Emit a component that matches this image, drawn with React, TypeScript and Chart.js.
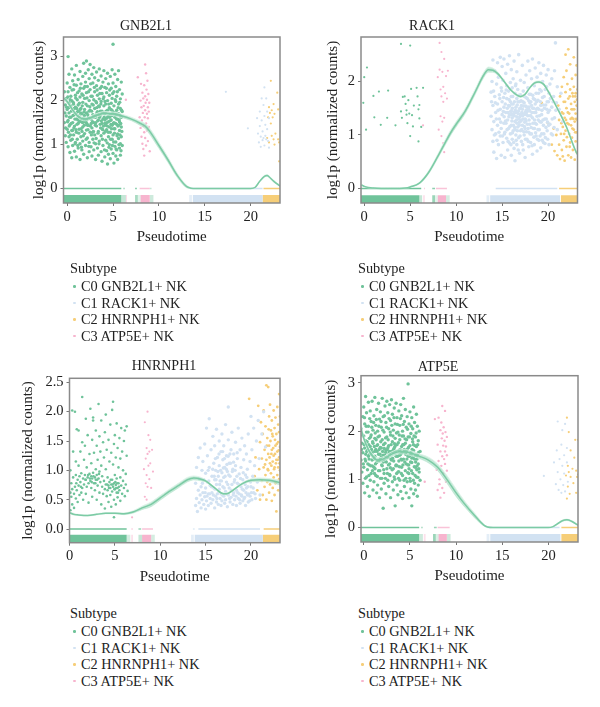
import { useEffect, useRef } from "react"
import { Chart, registerables } from "chart.js"

Chart.register(...registerables)

type Pt = [number, number]
// start, end, cluster, opacity
type Seg = [number, number, number, number]
// x, fitted y, half width of the ribbon
type Knot = [number, number, number]

const subtypeLabels = ["C0 GNB2L1+ NK", "C1 RACK1+ NK", "C2 HNRNPH1+ NK", "C3 ATP5E+ NK"]
const clusterColors = ["#6fc39a", "#d2e2f2", "#f6ce78", "#f7b4ce"]

const gnbC0: Pt[] = [
  [-0.3,2.2],[-0.3,1.5],[-0.2,1.9],[-0.2,1.2],[-0.1,2.05],[-0.1,1.65],[-0.1,1.05],[0,2.4],[0,1.8],[0,1.35],[0.1,3.0],[0.1,2.2],[0.1,1.55],[0.1,0.95],
  [0.2,2.6],[0.2,1.95],[0.2,1.72],[0.2,1.18],[0.3,2.3],[0.3,1.45],[0.3,0.82],[0.4,2.1],[0.4,1.88],[0.4,1.62],[0.4,1.1],[0.5,2.72],[0.5,2.0],[0.5,1.32],[0.5,0.7],
  [0.6,2.45],[0.6,1.78],[0.6,1.5],[0.6,0.98],[0.7,2.25],[0.7,1.92],[0.7,1.22],[0.8,2.58],[0.8,1.68],[0.8,1.42],[0.8,0.85],[0.9,2.12],[0.9,1.85],[0.9,1.05],
  [1,2.8],[1,2.35],[1,1.58],[1,1.28],[1,0.72],[1.1,2.02],[1.1,1.74],[1.1,1.12],[1.2,2.48],[1.2,1.9],[1.2,1.48],[1.2,0.92],[1.3,2.22],[1.3,1.65],[1.3,1.35],
  [1.4,2.66],[1.4,2.08],[1.4,1.02],[1.4,0.66],[1.5,2.38],[1.5,1.82],[1.5,1.55],[1.5,1.18],[1.6,2.15],[1.6,1.7],[1.6,0.88],[1.7,2.55],[1.7,1.96],[1.7,1.4],[1.7,1.08],
  [1.8,2.85],[1.8,2.28],[1.8,1.6],[1.8,0.78],[1.9,2.05],[1.9,1.8],[1.9,1.25],[2,2.62],[2,2.42],[2,1.52],[2,0.98],[2.1,2.9],[2.1,2.18],[2.1,1.72],[2.1,1.33],
  [2.2,2.32],[2.2,1.88],[2.2,1.15],[2.2,0.7],[2.3,2.7],[2.3,1.62],[2.3,1.44],[2.4,2.5],[2.4,2.0],[2.4,1.05],[2.4,0.84],[2.5,2.82],[2.5,2.25],[2.5,1.78],[2.5,1.28],
  [2.6,2.1],[2.6,1.58],[2.6,0.95],[2.7,2.6],[2.7,1.92],[2.7,1.38],[2.7,0.74],[2.8,2.4],[2.8,1.68],[2.8,1.12],[2.9,2.75],[2.9,2.02],[2.9,1.5],[2.9,0.88],
  [3,2.52],[3,2.2],[3,1.82],[3,1.22],[3.1,1.62],[3.1,1.02],[3.1,0.66],[3.2,2.65],[3.2,2.34],[3.2,1.95],[3.2,1.42],[3.3,2.12],[3.3,1.75],[3.3,0.92],
  [3.4,2.46],[3.4,1.56],[3.4,1.3],[3.4,0.76],[3.5,2.72],[3.5,2.04],[3.5,1.86],[3.5,1.08],[3.6,2.28],[3.6,1.66],[3.6,1.46],[3.7,2.56],[3.7,1.98],[3.7,1.2],[3.7,0.84],
  [3.8,2.16],[3.8,1.76],[3.8,1.36],[3.8,0.62],[3.9,2.42],[3.9,1.58],[3.9,0.98],[4,2.68],[4,2.08],[4,1.88],[4,1.26],[4.1,2.3],[4.1,1.7],[4.1,1.48],[4.1,0.72],
  [4.2,2.5],[4.2,1.92],[4.2,1.1],[4.3,2.18],[4.3,1.6],[4.3,1.34],[4.3,0.86],[4.4,2.62],[4.4,2.0],[4.4,1.78],[4.4,0.56],[4.5,2.38],[4.5,1.52],[4.5,1.18],[4.5,0.78],
  [4.6,2.12],[4.6,1.84],[4.6,1.4],[4.6,1.0],[4.7,2.55],[4.7,1.68],[4.7,1.28],[4.7,0.68],[4.8,2.28],[4.8,1.94],[4.8,1.56],[4.8,0.9],[4.9,2.7],[4.9,2.05],[4.9,1.44],[4.9,1.12],
  [5,3.28],[5,2.4],[5,1.74],[5,1.22],[5,0.8],[5.1,2.2],[5.1,1.88],[5.1,1.5],[5.1,0.58],[5.2,2.6],[5.2,1.62],[5.2,1.36],[5.2,0.96],[5.3,2.32],[5.3,1.98],[5.3,1.06],[5.3,0.74],
  [5.4,2.1],[5.4,1.78],[5.4,1.46],[5.4,0.88],[5.5,2.48],[5.5,1.58],[5.5,1.24],[5.5,0.66],[5.6,2.68],[5.6,1.92],[5.6,1.7],[5.6,1.14],[5.7,2.25],[5.7,1.52],[5.7,1.32],[5.7,0.92],
  [5.8,2.04],[5.8,1.82],[5.8,1.02],[5.8,0.76],[5.9,2.42],[5.9,1.62],[5.9,1.4],[5.9,1.18],[6,2.15],[6,1.75],[6,0.98],
]
const gnbC0Core: Pt[] = [
  [-0.24,1.72],[-0.17,1.38],[-0.06,1.85],[0.04,1.52],[0.07,2.08],[0.14,1.28],[0.17,1.84],[0.26,1.62],[0.33,2.02],[0.36,1.22],[0.44,1.48],[0.47,1.76],[0.53,2.24],[0.56,1.12],[0.64,1.66],[0.66,1.96],[0.73,1.38],[0.76,2.36],
  [0.84,1.58],[0.87,1.02],[0.93,2.06],[0.96,1.34],[1.04,1.82],[1.07,1.46],[1.13,2.18],[1.16,0.98],[1.24,1.62],[1.27,1.26],[1.33,1.94],[1.36,1.52],[1.44,2.28],[1.47,1.72],[1.53,1.36],[1.56,0.94],[1.64,1.88],[1.67,1.5],
  [1.73,2.12],[1.76,1.2],[1.84,1.74],[1.87,1.44],[1.93,2.32],[1.96,1.58],[2.04,1.92],[2.07,1.12],[2.13,1.48],[2.16,2.06],[2.24,1.68],[2.27,1.34],[2.33,2.2],[2.36,0.96],[2.44,1.6],[2.47,1.86],[2.53,1.42],[2.56,2.38],
  [2.64,1.22],[2.67,1.76],[2.73,2.1],[2.76,1.52],[2.84,1.9],[2.87,1.3],[2.93,1.04],[2.96,2.3],[3.04,1.66],[3.07,1.44],[3.13,1.98],[3.16,1.14],[3.24,1.72],[3.27,2.24],[3.33,1.54],[3.36,1.26],[3.44,1.88],[3.47,1.02],
  [3.53,1.62],[3.56,2.16],[3.64,1.38],[3.67,1.92],[3.73,1.54],[3.76,2.32],[3.84,1.12],[3.87,1.72],[3.93,2.04],[3.96,1.42],[4.04,1.62],[4.07,0.88],[4.13,1.98],[4.16,1.3],[4.24,1.76],[4.27,2.28],[4.33,1.5],[4.36,1.04],
  [4.44,1.64],[4.47,1.28],[4.53,1.92],[4.56,0.94],[4.64,2.24],[4.67,1.54],[4.73,1.12],[4.76,1.8],[4.84,1.36],[4.87,1.66],[4.93,0.98],[4.96,2.16],[5.04,1.48],[5.07,1.06],[5.13,1.7],[5.16,1.26],[5.24,2.02],[5.27,1.48],
  [5.33,0.9],[5.36,1.68],[5.44,1.2],[5.47,2.2],[5.53,1.42],[5.56,1.84],[5.64,1.0],[5.67,1.56],[5.73,1.96],[5.76,1.22],[5.84,1.48],[5.87,0.86],[5.93,1.78],[5.96,1.3],
  [0.22,1.42],[0.58,1.32],[0.92,1.7],[1.18,1.56],[1.42,1.8],[1.62,1.3],[1.88,1.66],[2.12,1.56],[2.38,1.76],[2.62,1.48],[2.88,1.62],[3.12,1.5],[3.38,1.68],[3.62,1.76],[3.88,1.34],[4.12,1.56],[4.38,1.42],[4.62,1.62],[4.88,1.78],
  [5.12,1.36],[5.38,1.58],[5.62,1.44],[0.78,1.82],[1.22,1.76],[1.78,1.52],[2.22,1.44],[2.78,1.28],[3.22,1.84],[3.78,1.48],[4.22,1.44],[4.78,1.46],[5.22,1.72],[5.78,1.66],
]
const gnbC1: Pt[] = [
  [17.3,2.2],[19.7,1.37],[20.7,1.6],[20.8,1.25],[20.9,1.05],[21,1.75],[21,1.42],[21.1,1.18],[21.1,0.95],[21.2,2.05],[21.2,1.55],[21.3,1.3],[21.3,1.1],[21.4,1.9],[21.4,1.15],[21.5,2.3],
  [21.5,1.65],[21.5,0.98],[21.6,1.45],[21.6,1.2],[21.7,2.05],[21.7,1.12],[21.8,1.75],[21.8,1.35],[21.9,1.08],[22,1.6],[22,0.93],
]
const gnbC2: Pt[] = [
  [21.8,1.15],[21.9,1.62],[22,1.85],[22,1.05],[22.1,1.72],[22.2,2.45],[22.2,1.48],[22.3,1.78],[22.3,1.2],[22.4,1.62],[22.5,1.92],[22.5,1.12],[22.6,1.7],[22.6,1.0],[22.7,1.25],[22.9,2.18],[23,1.8],[23,1.12],[23.1,0.62],[23.1,1.05],
]
const gnbC3: Pt[] = [
  [6.4,2.02],[7.7,2.53],[7.9,1.62],[8,2.0],[8,1.38],[8.05,2.38],[8.1,1.18],[8.1,1.85],[8.15,1.55],[8.2,2.18],[8.2,1.02],[8.25,1.72],[8.3,0.9],[8.3,1.42],[8.3,2.05],[8.35,1.88],[8.4,2.35],[8.4,1.28],[8.4,0.75],
  [8.45,1.62],[8.5,2.82],[8.5,2.1],[8.5,1.78],[8.5,1.15],[8.55,1.95],[8.6,2.62],[8.6,1.48],[8.6,0.98],[8.65,2.25],[8.7,1.7],[8.7,2.02],[8.7,1.32],[8.75,2.45],[8.8,1.85],[8.8,1.6],[8.8,1.08],[8.85,2.15],[8.9,1.75],[8.9,1.4],[8.95,1.95],[9,0.85],
]
const gnbCurve: Knot[] = [
  [-0.4,2.06,0.04],[0,1.98,0.04],[0.5,1.82,0.04],[1,1.68,0.04],[1.5,1.6,0.04],[2,1.58,0.04],[3,1.65,0.04],[4,1.71,0.04],[5,1.7,0.04],[6,1.65,0.04],[7,1.58,0.04],[8,1.48,0.05],[8.5,1.42,0.06],
  [9,1.3,0.07],[10,0.98,0.07],[11,0.65,0.06],[12,0.3,0.05],[13,0.05,0.03],[13.5,0.01,0.01],[14,0,0.005],[20,0,0.005],[20.5,0.03,0.01],[21,0.17,0.015],[21.5,0.28,0.02],[21.8,0.3,0.02],[22,0.27,0.02],[22.5,0.17,0.02],[23.2,0.06,0.015],
]
const gnbRug: Seg[] = [
  [-0.4,5.9,0,1],[5.9,6.4,0,0.4],[6.4,6.5,3,0.6],[7.4,7.7,0,0.6],[7.7,8,0,0.2],[8,9,3,1],[9,9.4,0,0.35],[13.3,13.6,1,0.6],[13.7,21.3,1,1],[21.3,23.2,2,1],
]
const gnbZeroRug: Seg[] = [
  [-0.4,5.9,0,1],[6.1,6.3,0,0.5],[7.4,7.6,0,0.8],[7.9,9,3,0.8],[9,9.2,0,0.4],[13.4,21.3,1,1],[21.4,23.2,2,1],
]

const rackC0: Pt[] = [
  [-0.1,1.6],[0,2.08],[0.2,1.1],[0.3,2.26],[1,1.73],[1.1,1.33],[1.6,1.81],[1.8,1.19],[2.5,1.32],[2.6,1.83],[3.4,1.18],[4,2.7],[4,1.44],[4.1,1.32],[4.2,1.71],[4.4,1.72],[4.5,1.58],[4.6,1.46],
  [4.6,1.38],[4.7,1.22],[4.8,1.65],[4.9,1.4],[5,2.67],[5,0.98],[5.1,1.86],[5.2,1.37],[5.3,1.16],[5.4,1.55],[5.7,1.88],[5.8,1.72],[5.9,1.48],[5.9,0.88],[6,1.56],[6,1.31],[6.2,1.15],[6.4,1.88],
]
const rackC1: Pt[] = [
  [13.8,1.35],[13.8,1.8],[13.9,2.0],[13.9,1.1],[14,2.4],[14,1.55],[14,0.88],[14.1,1.25],[14.1,0.68],[14.2,2.2],[14.2,1.72],[14.3,1.42],[14.3,1.02],[14.4,1.95],[14.4,0.56],[14.5,2.35],[14.5,1.58],[14.5,1.18],
  [14.6,0.82],[14.6,2.08],[14.7,1.3],[14.7,1.75],[14.8,2.45],[14.8,1.48],[14.8,0.98],[14.9,1.88],[14.9,1.12],[14.9,0.62],[15,2.28],[15,1.62],[15,1.38],[15.1,2.02],[15.1,0.86],[15.2,2.42],[15.2,1.52],[15.2,1.22],
  [15.3,1.78],[15.3,1.05],[15.3,0.58],[15.4,2.15],[15.4,1.42],[15.5,1.68],[15.5,0.94],[15.5,1.92],[15.6,2.32],[15.6,1.28],[15.6,0.72],[15.7,1.55],[15.7,1.12],[15.7,1.82],[15.8,2.48],[15.8,1.38],[15.8,0.85],
  [15.9,1.98],[15.9,1.62],[15.9,1.02],[16,2.22],[16,1.72],[16,1.45],[16,1.18],[16,0.62],[16.1,1.32],[16.1,0.92],[16.1,1.88],[16.2,2.05],[16.2,1.58],[16.2,1.08],[16.3,2.38],[16.3,1.42],[16.3,0.75],[16.4,1.78],
  [16.4,1.25],[16.4,0.52],[16.5,1.95],[16.5,1.52],[16.5,1.0],[16.6,2.18],[16.6,1.68],[16.6,1.34],[16.6,0.82],[16.7,1.15],[16.7,1.85],[16.8,2.5],[16.8,1.45],[16.8,0.95],[16.9,1.62],[16.9,1.24],[16.9,0.66],
  [17,2.02],[17,1.75],[17,1.38],[17,1.08],[17.1,1.55],[17.1,0.88],[17.2,2.3],[17.2,1.48],[17.2,1.18],[17.3,1.82],[17.3,1.3],[17.3,0.72],[17.4,1.98],[17.4,1.6],[17.4,1.0],[17.5,1.42],[17.5,1.12],[17.5,0.58],
  [17.6,2.12],[17.6,1.7],[17.6,1.26],[17.7,1.52],[17.7,0.92],[17.8,2.38],[17.8,1.88],[17.8,1.36],[17.9,1.64],[17.9,1.05],[17.9,0.78],[18,2.2],[18,1.45],[18,1.2],[18.1,1.76],[18.1,0.86],[18.2,2.05],[18.2,1.55],
  [18.2,1.02],[18.3,2.42],[18.3,1.32],[18.3,0.64],[18.4,1.68],[18.4,1.12],[18.5,1.92],[18.5,1.42],[18.5,0.82],[18.6,2.25],[18.6,1.58],[18.6,1.22],[18.7,1.78],[18.7,0.98],[18.8,2.08],[18.8,1.35],[18.8,0.7],
  [18.9,1.65],[18.9,1.1],[19,2.35],[19,1.48],[19,0.9],[19.1,1.85],[19.1,1.25],[19.2,2.15],[19.2,1.55],[19.2,0.76],[19.3,1.38],[19.3,1.02],[19.4,2.0],[19.4,1.7],[19.5,2.3],[19.5,1.18],[19.5,0.86],[19.6,1.5],
  [19.7,1.85],[19.7,0.95],[19.8,2.12],[19.8,1.3],[19.9,1.62],[19.9,1.08],[20,2.22],[20,1.42],[20.1,1.78],[20.1,0.82],[20.2,1.95],[20.2,1.2],[20.4,2.05],[20.4,1.52],[20.5,1.0],[20.6,1.72],[20.7,2.2],[20.7,1.32],
  [20.8,2.72],[20.9,1.6],[21,1.9],[21,1.1],[21.2,1.48],[21.4,1.78],[21.6,1.25],
]
const rackC1Core: Pt[] = [
  [13.85,1.62],[14.07,1.82],[14.16,1.0],[14.26,1.6],[14.37,1.3],[14.44,0.9],[14.56,1.46],[14.66,1.05],[14.75,1.68],[14.86,1.24],[14.95,1.82],[15.04,0.98],[15.13,1.44],[15.16,1.7],[15.25,1.02],[15.34,1.58],[15.37,1.26],[15.45,1.84],
  [15.54,1.1],[15.57,1.5],[15.65,0.88],[15.74,1.34],[15.76,1.66],[15.85,1.16],[15.94,1.44],[15.96,0.82],[16.04,1.58],[16.06,1.26],[16.13,1.04],[16.15,1.72],[16.23,1.38],[16.25,0.86],[16.34,1.62],[16.36,1.14],[16.44,1.46],[16.46,1.92],
  [16.53,0.9],[16.55,1.28],[16.64,1.56],[16.66,1.08],[16.73,1.4],[16.75,0.72],[16.84,1.74],[16.86,1.18],[16.93,1.5],[16.95,0.98],[17.04,1.26],[17.06,1.64],[17.13,1.1],[17.15,1.42],[17.24,0.82],[17.26,1.62],[17.33,1.38],[17.36,1.06],
  [17.44,1.72],[17.46,1.24],[17.53,0.92],[17.56,1.54],[17.64,1.06],[17.66,1.38],[17.73,1.68],[17.75,1.2],[17.84,0.88],[17.86,1.48],[17.93,1.28],[17.96,1.76],[18.04,1.02],[18.06,1.36],[18.13,1.62],[18.16,1.14],[18.24,1.42],[18.26,0.8],
  [18.33,1.74],[18.36,1.22],[18.44,1.5],[18.46,0.96],[18.53,1.28],[18.56,1.66],[18.64,1.04],[18.66,1.42],[18.73,1.2],[18.76,1.62],[18.84,0.92],[18.86,1.5],[18.93,1.28],[18.96,1.78],[19.04,1.1],[19.06,1.36],[19.13,0.98],[19.16,1.62],
  [19.24,1.24],[19.26,1.82],[19.33,1.46],[19.36,0.9],[19.44,1.28],[19.46,1.56],[19.54,1.02],[19.57,1.72],[19.64,1.3],[19.66,0.84],[19.74,1.56],[19.77,1.14],[19.84,1.9],[19.86,1.48],[19.94,1.24],[19.96,0.92],[20.04,1.62],[20.06,1.18],
  [20.15,1.46],[20.25,1.68],[20.35,1.02],[20.45,1.3],[20.55,1.62],[20.65,1.14],[20.85,1.46],[16.12,1.5],[16.32,1.36],[16.52,1.42],[16.72,1.62],[16.92,1.34],[17.12,1.28],[17.32,1.54],[17.52,1.3],[17.72,1.44],[17.92,1.52],[18.12,1.36],
  [18.32,1.5],[18.52,1.12],[18.72,1.48],[15.22,1.34],[15.42,1.22],[15.62,1.42],[15.82,1.54],[16.02,1.38],[16.22,1.18],[16.42,1.1],[16.62,1.22],[16.82,1.3],[17.02,1.5],[17.22,1.36],[17.42,1.16],[17.62,1.46],[17.82,1.12],[18.02,1.6],
]
const rackC2: Pt[] = [
  [19.3,1.6],[20,1.22],[20.4,0.82],[20.6,1.12],[20.7,0.7],[20.9,1.0],[21,0.62],[21.1,1.55],[21.2,0.82],[21.2,1.28],[21.3,1.72],[21.3,0.55],[21.4,1.02],[21.5,1.42],[21.5,0.72],[21.5,1.9],[21.6,1.15],[21.6,0.6],
  [21.7,2.08],[21.7,1.62],[21.7,0.9],[21.8,1.32],[21.8,0.52],[21.9,1.8],[21.9,1.08],[21.9,2.5],[22,1.5],[22,0.78],[22,2.2],[22.1,1.22],[22.1,1.95],[22.2,0.62],[22.2,1.68],[22.2,2.6],[22.3,1.4],[22.3,1.02],
  [22.4,1.85],[22.4,0.86],[22.4,2.32],[22.5,1.58],[22.5,1.18],[22.5,0.58],[22.6,2.05],[22.6,1.32],[22.6,0.95],[22.7,1.72],[22.7,1.48],[22.7,0.72],[22.8,2.45],[22.8,1.9],[22.8,1.1],[22.9,1.62],[22.9,1.25],[22.9,0.54],
  [23,2.12],[23,1.4],[23,0.88],[23,1.78],[23.1,1.55],[23.1,1.05],[23.1,0.68],[23.1,2.3],[23.2,1.28],[23.2,1.85],
  [21.45,1.22],[21.65,1.4],[21.75,1.02],[21.85,1.62],[21.95,1.28],[22.05,0.96],[22.15,1.42],[22.25,1.2],[22.35,1.72],[22.45,1.3],[22.55,1.48],[22.65,1.12],[22.75,1.3],[22.85,1.48],[22.95,1.05],[23.05,1.3],[23.15,1.66],[22.35,0.78],[22.65,1.78],[22.95,1.72],
]
const rackC3: Pt[] = [
  [6.4,1.18],[8,2.08],[8.1,1.1],[8.2,2.72],[8.2,2.22],[8.3,1.85],[8.3,1.35],[8.4,2.55],[8.4,1.72],[8.4,0.98],[8.5,2.18],[8.5,1.25],[8.6,1.9],[8.6,1.62],[8.6,0.85],[8.7,2.42],[8.7,1.32],[8.7,0.68],[8.8,1.78],[8.9,2.1],[9,1.68],[9.1,2.2],
]
const rackCurve: Knot[] = [
  [-0.3,0.07,0.01],[0,0.04,0.01],[1,0.01,0.005],[3,0,0.005],[4.5,0.01,0.005],[5,0.03,0.01],[6,0.1,0.015],[7,0.3,0.03],[8,0.6,0.04],[9,0.92,0.05],[9.5,1.07,0.05],[10,1.2,0.05],[11,1.45,0.05],
  [12,1.78,0.05],[13,2.12,0.05],[13.5,2.22,0.05],[14,2.21,0.04],[14.5,2.15,0.03],[15,2.05,0.02],[16,1.83,0.02],[17,1.72,0.02],[17.5,1.76,0.02],[18,1.88,0.02],[18.5,1.97,0.02],[19,1.99,0.02],[19.5,1.95,0.02],[20,1.82,0.02],[21,1.5,0.02],[22,1.15,0.02],[23,0.7,0.02],[23.2,0.64,0.02],
]
const rackRug: Seg[] = [
  [-0.35,6,0,1],[6,6.3,0,0.4],[6.4,6.6,3,0.4],[7.4,7.7,0,0.7],[7.7,8,0,0.2],[8,8.9,3,1],[8.9,9.3,0,0.3],[13.3,13.6,1,0.6],[13.7,21.3,1,1],[21.4,23.2,2,1],
]
const rackZeroRug: Seg[] = [
  [-0.35,6.2,0,1],[6.5,6.6,3,0.7],[7.4,7.7,0,0.8],[7.8,9,3,0.8],[14.3,21,1,1],[21.2,23.2,2,1],
]

const hnrC0: Pt[] = [
  [0.1,1.0],[0.1,0.62],[0.1,0.32],[0.2,0.55],[0.2,0.78],[0.3,2.02],[0.3,0.42],[0.3,0.68],[0.4,1.32],[0.4,0.88],[0.5,0.6],[0.5,0.36],[0.6,2.0],[0.6,0.72],[0.7,0.92],[0.7,1.15],[0.7,0.52],[0.8,1.7],[0.8,0.66],
  [0.9,0.84],[0.9,0.46],[1,1.68],[1,1.08],[1,0.74],[1.1,0.9],[1.1,0.58],[1.2,1.32],[1.2,0.8],[1.3,0.62],[1.3,0.95],[1.4,2.25],[1.4,1.48],[1.4,0.7],[1.5,0.86],[1.5,0.5],[1.6,1.18],[1.6,0.76],[1.7,0.92],[1.7,1.42],
  [1.8,1.88],[1.8,0.84],[1.8,0.6],[1.9,0.72],[1.9,1.05],[2,1.6],[2,0.88],[2.1,0.78],[2.1,0.45],[2.2,1.28],[2.2,0.94],[2.3,2.05],[2.3,0.82],[2.4,1.12],[2.4,0.7],[2.4,0.9],[2.5,1.52],[2.5,0.86],[2.5,0.55],[2.6,1.9],[2.6,1.85],
  [2.6,0.96],[2.7,1.3],[2.7,0.78],[2.8,0.88],[2.8,0.66],[2.9,1.68],[2.9,1.02],[2.9,0.84],[3,1.42],[3,0.92],[3,0.5],[3.1,1.18],[3.1,0.74],[3.2,2.13],[3.2,0.86],[3.3,1.58],[3.3,0.98],[3.3,0.62],[3.4,1.32],[3.4,0.8],
  [3.5,1.85],[3.5,1.08],[3.5,0.42],[3.6,0.72],[3.6,0.9],[3.7,1.48],[3.7,0.6],[3.8,1.22],[3.8,0.82],[3.9,1.65],[3.9,0.68],[3.9,0.35],[4,1.95],[4,1.02],[4,0.76],[4.1,1.35],[4.1,0.56],[4.2,0.88],[4.2,0.66],[4.3,1.52],
  [4.3,0.74],[4.3,0.46],[4.4,1.15],[4.4,0.8],[4.5,1.78],[4.5,0.7],[4.5,0.58],[4.6,1.3],[4.6,0.76],[4.6,0.38],[4.7,2.03],[4.7,0.84],[4.7,0.64],[4.8,2.17],[4.8,1.1],[4.8,0.72],[4.9,1.45],[4.9,0.78],[4.9,0.5],[4.9,0.2],
  [5,1.6],[5,0.92],[5,0.68],[5.1,1.22],[5.1,0.75],[5.1,0.42],[5.2,1.8],[5.2,0.86],[5.2,0.62],[5.3,1.38],[5.3,0.7],[5.3,0.54],[5.4,1.05],[5.4,0.78],[5.5,1.55],[5.5,0.66],[5.6,1.2],[5.6,0.88],[5.6,0.48],[5.7,1.72],
  [5.7,0.74],[5.8,1.32],[5.8,0.6],[5.9,1.0],[5.9,0.82],[6,1.5],[6,0.7],[6.1,1.68],[6.1,0.56],[6.2,0.94],[6.2,0.76],[6.3,1.25],[6.3,1.75],[6.4,0.65],
  [0.75,0.78],[1.25,0.72],[1.75,0.84],[2.05,0.92],[2.25,0.86],[2.45,0.8],[2.65,0.9],[2.85,0.78],[3.05,0.84],[3.25,0.94],[4.15,0.76],[4.35,0.7],[4.55,0.84],[4.75,0.76],[4.95,0.68],[5.05,0.8],[5.15,0.7],[5.25,0.78],[5.35,0.62],[5.45,0.72],
]
const hnrC1: Pt[] = [
  [13.9,0.4],[13.9,0.78],[14,1.05],[14,0.52],[14.1,0.3],[14.2,0.66],[14.2,1.22],[14.3,0.45],[14.3,0.86],[14.4,0.58],[14.4,1.38],[14.5,0.36],[14.5,0.72],[14.6,1.0],[14.6,0.5],[14.7,0.62],[14.7,1.15],[14.8,0.84],
  [14.8,0.42],[14.9,1.45],[14.9,0.55],[15,0.7],[15,0.95],[15,0.34],[15.1,1.72],[15.1,0.48],[15.2,0.8],[15.2,1.25],[15.3,0.6],[15.3,0.4],[15.4,1.05],[15.4,1.88],[15.5,0.52],[15.5,0.74],[15.6,1.35],[15.6,0.44],[15.7,0.9],
  [15.7,0.62],[15.8,1.58],[15.8,0.5],[15.9,1.12],[15.9,0.7],[16,0.36],[16,0.84],[16,1.42],[16.1,0.56],[16.1,1.0],[16.2,1.7],[16.2,0.46],[16.2,0.76],[16.3,1.22],[16.3,0.6],[16.4,0.9],[16.4,0.42],[16.5,1.5],[16.5,0.68],
  [16.5,1.08],[16.6,0.52],[16.6,0.82],[16.7,1.32],[16.7,0.4],[16.7,0.6],[16.8,1.62],[16.8,0.96],[16.8,0.48],[16.9,1.18],[16.9,0.72],[17,0.56],[17,1.42],[17,0.88],[17.1,0.44],[17.1,1.05],[17.2,1.78],[17.2,0.64],[17.2,0.5],
  [17.3,1.25],[17.3,0.8],[17.4,0.38],[17.4,0.98],[17.5,2.08],[17.5,1.52],[17.5,0.58],[17.6,1.12],[17.6,0.7],[17.7,0.46],[17.7,0.9],[17.8,1.35],[17.8,0.54],[17.9,1.65],[17.9,0.76],[18,1.02],[18,0.42],[18.1,1.28],[18.1,0.62],
  [18.2,0.84],[18.2,0.5],[18.3,1.48],[18.3,1.08],[18.4,0.66],[18.4,0.4],[18.5,1.2],[18.5,0.78],[18.6,1.72],[18.6,0.52],[18.7,0.94],[18.7,0.6],[18.8,1.35],[18.8,0.44],[18.9,1.05],[18.9,0.72],[19,0.56],[19,1.55],[19.1,0.84],
  [19.1,0.48],[19.2,1.18],[19.2,0.66],[19.3,1.42],[19.3,0.54],[19.4,0.92],[19.4,0.4],[19.5,1.28],[19.5,0.7],[19.6,0.58],[19.6,1.02],[19.7,1.62],[19.7,0.46],[19.8,0.82],[19.9,1.15],[19.9,0.56],[20,0.72],[20,1.92],[20.1,0.5],
  [20.1,1.35],[20.2,0.9],[20.3,0.62],[20.3,1.72],[20.4,1.08],[20.5,0.52],[20.6,1.5],[20.7,0.8],[20.8,1.85],[20.9,1.2],[21,0.58],[21.2,1.62],[21.4,2.0],[21.6,1.4],
]
const hnrC1Core: Pt[] = [
  [14.65,0.78],[14.95,0.62],[15.15,0.56],[15.35,0.82],[15.45,0.6],[15.65,0.72],[15.85,0.58],[15.95,0.9],[16.05,0.68],[16.15,0.84],[16.25,0.52],[16.35,0.98],[16.45,0.64],[16.55,0.76],[16.65,1.0],[16.75,0.82],[16.85,0.58],[16.95,1.04],
  [17.05,0.7],[17.15,0.9],[17.25,0.6],[17.35,1.1],[17.45,0.76],[17.55,0.92],[17.65,0.52],[17.75,1.12],[17.85,0.66],[17.95,0.98],[18.05,0.58],[18.15,0.8],[18.25,1.0],[18.35,0.56],[18.45,0.9],[18.55,0.62],[18.65,0.76],[18.75,0.5],
  [18.85,0.86],[18.95,0.58],[19.05,0.68],[19.15,0.96],[19.25,0.52],[19.35,0.76],[19.45,0.62],[19.55,0.88],[19.65,0.72],[19.75,0.6],[19.85,0.48],[19.95,0.8],[20.05,0.62],[20.25,0.7],[20.45,0.6],[16.08,1.2],[16.48,1.28],[16.88,1.32],
  [17.28,1.02],[17.68,1.28],[18.08,1.14],[18.48,1.3],[15.78,1.02],[15.28,1.0],[17.08,1.2],[17.48,1.24],
]
const hnrC2: Pt[] = [
  [19.8,2.22],[20.4,0.9],[20.5,1.22],[20.7,0.66],[20.8,2.1],[20.9,1.02],[21,1.48],[21,0.5],[21.1,1.82],[21.2,0.82],[21.2,1.2],[21.3,0.58],[21.3,1.62],[21.4,1.05],[21.4,2.02],[21.5,0.72],[21.5,1.35],[21.6,1.75],[21.6,0.92],
  [21.7,0.5],[21.7,1.18],[21.7,2.45],[21.8,1.55],[21.8,0.8],[21.9,2.42],[21.9,1.28],[21.9,1.0],[22,1.92],[22,0.62],[22,1.42],[22.1,2.12],[22.1,1.12],[22.1,0.76],[22.2,1.68],[22.2,0.95],[22.3,1.85],[22.3,1.35],[22.3,0.48],
  [22.4,1.15],[22.4,0.7],[22.4,1.58],[22.5,2.02],[22.5,1.25],[22.5,0.88],[22.6,1.72],[22.6,1.05],[22.6,0.58],[22.7,1.42],[22.7,1.9],[22.7,0.78],[22.8,1.18],[22.8,0.3],[22.8,1.62],[22.9,2.08],[22.9,1.32],[22.9,0.92],
  [23,1.78],[23,1.05],[23,0.66],[23,1.48],[23.1,1.22],[23.1,2.3],[23.1,0.85],[23.1,1.65],[23.2,1.4],[23.2,1.92],[23.2,1.0],
  [21.55,1.1],[21.75,1.42],[21.85,1.02],[21.95,1.7],[22.05,1.22],[22.15,1.5],[22.25,1.08],[22.35,1.62],[22.45,1.38],[22.55,1.02],[22.65,1.28],[22.75,1.12],[22.85,1.45],[22.95,1.18],[23.05,1.34],[23.15,1.12],[22.25,1.28],[22.65,1.52],
]
const hnrC3: Pt[] = [
  [6.9,0.2],[8.2,1.02],[8.3,0.55],[8.3,1.82],[8.4,1.2],[8.4,0.78],[8.5,1.38],[8.5,0.92],[8.5,0.5],[8.6,1.28],[8.6,2.0],[8.6,0.72],[8.7,1.08],[8.7,1.6],[8.8,1.32],[8.8,0.85],[8.9,1.52],[8.9,1.12],[9,0.7],[9.1,1.35],[9.2,0.98],
]
const hnrCurve: Knot[] = [
  [0,0.28,0.015],[0.5,0.25,0.015],[1,0.24,0.01],[2,0.23,0.01],[3,0.25,0.01],[4,0.27,0.01],[5,0.27,0.01],[6,0.26,0.015],[7,0.29,0.02],[8,0.36,0.03],[9,0.42,0.04],[10,0.53,0.04],[11,0.64,0.04],
  [12,0.74,0.04],[13,0.84,0.04],[13.7,0.87,0.035],[14.5,0.85,0.03],[15,0.82,0.02],[16,0.7,0.015],[17,0.6,0.015],[17.3,0.6,0.015],[18,0.66,0.015],[19,0.77,0.015],[20,0.83,0.025],[21,0.84,0.03],[22,0.83,0.03],[23.2,0.79,0.04],
]
const hnrRug: Seg[] = [
  [0,6.3,0,1],[6.3,6.7,0,0.3],[6.8,7,3,0.4],[7.6,8,0,0.4],[8,9,3,1],[9,9.4,0,0.3],[13.4,13.7,1,0.6],[13.8,21.3,1,1],[21.3,23.2,2,1],
]
const hnrZeroRug: Seg[] = [
  [0,6.3,0,1],[6.8,7,3,0.5],[7.6,7.9,0,0.7],[8,9.2,3,0.8],[13.6,13.8,1,0.7],[14.2,21,1,1],[21.4,23.2,2,1],
]

const atpC0: Pt[] = [
  [-0.3,2.05],[-0.3,1.4],[-0.2,1.75],[-0.2,1.15],[-0.1,2.3],[-0.1,1.55],[-0.1,0.92],[0,2.5],[0,1.9],[0,1.25],[0.1,2.15],[0.1,1.65],[0.1,0.72],[0.2,2.72],[0.2,1.8],[0.2,1.38],[0.3,2.38],[0.3,1.98],[0.3,1.05],
  [0.4,1.6],[0.4,1.2],[0.4,0.85],[0.5,2.6],[0.5,2.1],[0.5,1.48],[0.6,1.85],[0.6,1.3],[0.6,0.65],[0.7,2.42],[0.7,1.68],[0.7,0.98],[0.8,2.2],[0.8,1.92],[0.8,1.12],[0.9,2.62],[0.9,1.55],[0.9,1.4],[1,2.02],
  [1,1.75],[1,0.78],[1.1,2.32],[1.1,1.25],[1.1,0.95],[1.2,2.7],[1.2,1.85],[1.2,1.48],[1.3,2.12],[1.3,1.62],[1.3,1.08],[1.4,2.45],[1.4,1.35],[1.4,0.72],[1.5,2.0],[1.5,1.72],[1.5,0.88],[1.6,2.58],[1.6,1.52],[1.6,1.18],
  [1.7,2.25],[1.7,1.9],[1.7,0.62],[1.8,2.4],[1.8,1.42],[1.8,1.02],[1.9,2.08],[1.9,1.65],[1.9,0.8],[2,2.68],[2,1.82],[2,1.28],[2.1,2.3],[2.1,1.5],[2.1,0.4],[2.2,1.98],[2.2,1.12],[2.2,0.92],[2.3,2.52],[2.3,1.75],[2.3,1.38],
  [2.4,2.18],[2.4,1.6],[2.4,0.7],[2.5,2.62],[2.5,1.88],[2.5,1.22],[2.6,2.38],[2.6,1.45],[2.6,0.98],[2.7,2.05],[2.7,1.7],[2.7,0.85],[2.8,2.55],[2.8,1.32],[2.8,1.1],[2.9,2.22],[2.9,1.92],[2.9,0.62],[3,2.65],[3,1.58],[3,1.4],
  [3.1,2.35],[3.1,1.78],[3.1,0.95],[3.2,2.02],[3.2,1.22],[3.2,0.78],[3.3,2.48],[3.3,1.65],[3.3,1.05],[3.4,2.15],[3.4,1.85],[3.4,0.45],[3.5,2.58],[3.5,1.48],[3.5,1.3],[3.6,2.28],[3.6,1.72],[3.6,0.88],[3.7,1.98],
  [3.7,1.15],[3.7,0.68],[3.8,2.42],[3.8,1.6],[3.8,1.38],[3.9,2.12],[3.9,1.82],[3.9,0.98],[4,2.55],[4,1.52],[4,0.75],[4.1,2.32],[4.1,1.68],[4.1,1.25],[4.2,2.0],[4.2,1.08],[4.2,0.6],[4.3,2.68],[4.3,1.9],[4.3,1.42],
  [4.4,2.2],[4.4,1.58],[4.4,0.85],[4.5,2.45],[4.5,1.75],[4.5,1.18],[4.6,2.08],[4.6,1.32],[4.6,0.72],[4.7,2.3],[4.7,1.62],[4.7,0.95],[4.8,2.98],[4.8,1.88],[4.8,1.48],[4.9,2.15],[4.9,1.22],[4.9,0.62],[5,2.4],[5,1.7],[5,1.02],
  [5.1,1.95],[5.1,1.55],[5.1,0.8],[5.2,2.28],[5.2,1.35],[5.2,0.45],[5.3,2.05],[5.3,1.78],[5.3,1.12],[5.4,2.5],[5.4,1.6],[5.4,0.7],[5.5,2.18],[5.5,1.42],[5.5,0.92],[5.6,1.88],[5.6,1.25],[5.6,0.78],[5.7,2.35],[5.7,1.68],
  [5.7,1.05],[5.8,2.1],[5.8,1.5],[5.8,0.65],[5.9,1.8],[5.9,1.32],[5.9,0.88],[6,2.0],[6,1.15],[6.1,1.58],[6.1,0.98],
]
const atpC0Core: Pt[] = [
  [-0.24,1.62],[-0.16,1.92],[-0.05,1.32],[0.05,1.72],[0.08,2.28],[0.14,1.42],[0.17,1.02],[0.26,2.1],[0.33,1.58],[0.36,1.78],[0.44,1.32],[0.47,1.98],[0.54,1.72],[0.56,1.08],[0.64,2.26],[0.66,1.52],[0.74,1.88],[0.76,1.28],
  [0.84,1.62],[0.87,2.08],[0.94,1.18],[0.96,1.78],[1.04,1.42],[1.07,2.18],[1.14,1.68],[1.16,1.12],[1.24,1.96],[1.27,1.32],[1.34,1.82],[1.36,2.24],[1.44,1.58],[1.47,1.06],[1.54,1.88],[1.56,1.38],[1.64,2.1],[1.67,1.62],
  [1.74,1.18],[1.76,1.52],[1.84,1.78],[1.87,2.2],[1.94,1.3],[1.96,1.02],[2.04,1.58],[2.07,2.02],[2.14,1.72],[2.16,1.2],[2.24,2.32],[2.27,1.5],[2.34,1.02],[2.36,1.86],[2.44,1.36],[2.47,2.08],[2.54,1.62],[2.56,1.12],
  [2.64,1.82],[2.67,1.3],[2.74,2.26],[2.76,1.54],[2.84,1.08],[2.87,1.98],[2.94,1.42],[2.96,1.72],[3.04,2.12],[3.07,1.2],[3.14,1.56],[3.16,1.9],[3.24,1.38],[3.27,2.28],[3.34,1.74],[3.36,1.0],[3.44,1.58],[3.47,1.28],
  [3.54,1.96],[3.56,1.12],[3.64,2.14],[3.67,1.48],[3.74,1.76],[3.76,1.02],[3.84,1.92],[3.87,1.26],[3.94,1.62],[3.96,2.26],[4.04,1.42],[4.07,1.12],[4.14,1.9],[4.16,1.56],[4.24,1.3],[4.27,2.14],[4.34,1.72],[4.36,0.98],
  [4.44,1.36],[4.47,1.84],[4.54,1.52],[4.56,1.02],[4.64,1.82],[4.67,1.42],[4.74,2.04],[4.76,1.14],[4.84,1.66],[4.87,1.3],[4.94,1.88],[4.96,1.48],[5.04,0.96],[5.07,1.36],[5.14,2.1],[5.16,1.18],[5.24,1.62],[5.27,1.84],
  [5.34,1.46],[5.36,0.98],[5.44,1.9],[5.47,1.26],[5.54,1.7],[5.56,1.08],[5.64,1.5],[5.67,1.96],[5.74,1.2],[5.76,1.42],[5.84,1.72],[5.87,1.04],[5.94,1.56],[5.96,1.22],
  [0.22,1.52],[0.58,1.42],[0.92,1.28],[1.18,1.58],[1.42,1.7],[1.62,1.38],[1.88,1.46],[2.12,1.36],[2.38,1.56],[2.62,1.66],[2.88,1.24],[3.12,1.44],[3.38,1.68],[3.62,1.28],[3.88,1.5],[4.12,1.4],[4.38,1.62],[4.62,1.58],[4.88,1.12],
  [5.12,1.52],[5.38,1.72],[5.62,1.36],[0.78,1.52],[1.22,1.22],[1.78,1.66],[2.22,1.64],[2.78,1.58],[3.22,1.62],[3.78,1.16],[4.22,1.72],[4.78,1.3],[5.22,1.44],[5.78,1.28],
]
const atpC1: Pt[] = [
  [19.5,1.07],[20.6,1.35],[20.8,0.9],[20.9,1.6],[21,2.2],[21,1.15],[21.1,0.78],[21.2,1.42],[21.3,1.0],[21.4,1.72],[21.4,0.72],[21.5,2.02],[21.5,1.28],[21.6,0.88],[21.7,1.5],[21.7,1.12],[21.8,2.15],[21.8,0.75],[22,1.35],[22,1.65],[22.1,0.95],
]
const atpC2: Pt[] = [
  [21.9,1.08],[22,2.28],[22,0.6],[22.1,1.28],[22.1,0.85],[22.2,1.98],[22.2,1.15],[22.3,0.7],[22.4,1.05],[22.4,1.6],[22.6,1.22],[22.7,0.92],[22.8,1.45],[22.9,1.82],[23,1.18],[23,0.72],[23.1,1.05],[23.2,1.82],[23.2,1.1],
]
const atpC3: Pt[] = [
  [6.6,0.95],[7.7,2.25],[7.9,1.2],[8,1.72],[8,0.78],[8.1,2.28],[8.1,1.38],[8.2,1.0],[8.2,0.9],[8.3,2.02],[8.3,1.58],[8.3,0.62],[8.4,2.18],[8.4,1.28],[8.45,1.85],[8.5,2.52],[8.5,1.48],[8.5,0.82],[8.55,1.95],[8.6,1.7],
  [8.6,1.12],[8.65,2.08],[8.7,1.42],[8.7,0.72],[8.75,1.8],[8.8,2.42],[8.8,1.58],[8.8,1.32],[8.85,1.98],[8.9,1.68],[8.9,0.95],[9,1.5],[9,1.88],[9,1.18],
]
const atpCurve: Knot[] = [
  [-0.3,2.05,0.05],[0,1.85,0.05],[0.5,1.62,0.05],[1,1.47,0.05],[1.5,1.4,0.05],[2,1.41,0.05],[3,1.52,0.05],[4,1.58,0.05],[5,1.55,0.05],[6,1.48,0.05],[7,1.4,0.06],[8,1.25,0.07],[9,1.0,0.08],
  [10,0.72,0.08],[11,0.47,0.06],[12,0.25,0.05],[13,0.05,0.02],[13.4,0.01,0.01],[14,0,0.005],[20,0,0.005],[20.5,0.02,0.01],[21,0.08,0.015],[21.5,0.14,0.015],[22,0.16,0.015],[22.5,0.13,0.015],[23.2,0.05,0.015],
]
const atpRug: Seg[] = [
  [-0.3,6,0,1],[6,6.4,0,0.35],[6.5,6.7,3,0.4],[7.5,7.8,0,0.7],[7.8,8.1,0,0.25],[8.1,9,3,1],[9,9.4,0,0.35],[13.3,13.6,1,0.6],[13.7,21.3,1,1],[21.4,23.2,2,1],
]
const atpZeroRug: Seg[] = [
  [-0.3,6,0,1],[6.2,6.4,0,0.5],[7.6,7.9,0,0.7],[8,9.3,3,0.8],[13.4,21.2,1,1],[21.4,23.2,2,1],
]

function withAlpha(hex: string, a: number) {
  const n = parseInt(hex.slice(1), 16)
  return `rgba(${n >> 16}, ${(n >> 8) & 255}, ${n & 255}, ${a})`
}

// Gray box around the plot, the axes only give two of the sides
const framePlugin = {
  id: "frame",
  afterDatasetsDraw(chart: any) {
    const { left, top, width, height } = chart.chartArea
    const ctx = chart.ctx
    ctx.save()
    ctx.strokeStyle = "#8a8a8a"
    ctx.lineWidth = 1.5
    ctx.strokeRect(left, top, width, height)
    ctx.restore()
  },
}

type PanelProps = {
  title: string
  left: number
  top: number
  plot: [number, number, number, number] // plot left, top, right, bottom inside the canvas
  titleX: number
  titleY: number
  yTitleX: number
  xRange: [number, number]
  yRange: [number, number]
  yStep: number
  yDigits: number
  rugY: number
  clouds: Pt[][]
  radii: number[]
  curve: Knot[]
  rug: Seg[]
  zeroRug: Seg[]
}

const CANVAS_W = 300
const CANVAS_H = 250
const FONT = "'Liberation Serif', serif"

function Panel(props: PanelProps) {
  const canvasRef = useRef<HTMLCanvasElement>(null)

  useEffect(() => {
    if (!canvasRef.current) return
    const { plot, curve } = props

    const segments = (segs: Seg[], y: number, width: number, order: number) =>
      segs.map(([start, end, cluster, alpha]) => ({
        data: [{ x: start, y }, { x: end, y }],
        showLine: true,
        borderColor: withAlpha(clusterColors[cluster], alpha),
        borderWidth: width,
        pointRadius: 0,
        clip: 0,
        order,
      }))

    const datasets: any[] = [
      {
        data: curve.map(([x, y, ci]) => ({ x, y })),
        showLine: true,
        borderColor: "#7ccba5",
        borderWidth: 1.5,
        pointRadius: 0,
        cubicInterpolationMode: "monotone",
        clip: 0,
        order: 0,
      },
      {
        data: curve.map(([x, y, ci]) => ({ x, y: y + ci })),
        showLine: true,
        borderColor: "rgba(222, 243, 233, 0.95)",
        borderWidth: 0.9,
        pointRadius: 0,
        cubicInterpolationMode: "monotone",
        backgroundColor: "rgba(160, 218, 190, 0.6)",
        fill: "+1",
        clip: 0,
        order: 1,
      },
      {
        data: curve.map(([x, y, ci]) => ({ x, y: y - ci })),
        showLine: true,
        borderColor: "rgba(222, 243, 233, 0.95)",
        borderWidth: 0.9,
        pointRadius: 0,
        cubicInterpolationMode: "monotone",
        clip: 0,
        order: 1,
      },
      ...props.clouds.map((points, i) => ({
        data: points.map(([x, y]) => ({ x, y })),
        pointRadius: props.radii[i],
        pointBorderWidth: 0,
        pointBackgroundColor: clusterColors[i],
        clip: 0,
        order: i === 0 ? 5 : 4,
      })),
      ...segments(props.rug, props.rugY, 8, 6),
      ...segments(props.zeroRug, 0, 1.5, 6),
    ]

    const chart = new Chart(canvasRef.current, {
      type: "scatter",
      data: { datasets },
      plugins: [framePlugin],
      options: {
        responsive: false,
        animation: false,
        layout: { padding: { top: plot[1], right: CANVAS_W - plot[2], left: 0, bottom: 0 } },
        plugins: { legend: { display: false }, tooltip: { enabled: false } },
        scales: {
          x: {
            type: "linear",
            min: props.xRange[0],
            max: props.xRange[1],
            afterFit: (s: any) => {
              s.height = CANVAS_H - plot[3]
            },
            ticks: {
              stepSize: 5,
              includeBounds: false,
              maxRotation: 0,
              padding: 2,
              color: "#222",
              font: { family: FONT, size: 14.5 },
            },
            grid: { drawOnChartArea: false, tickLength: 3, tickColor: "#777" },
            border: { display: false },
            title: {
              display: true,
              text: "Pseudotime",
              color: "#222",
              font: { family: FONT, size: 15 },
              padding: { top: 2, bottom: CANVAS_H - plot[3] - 43 },
            },
          },
          y: {
            type: "linear",
            min: props.yRange[0],
            max: props.yRange[1],
            afterFit: (s: any) => {
              s.width = plot[0]
            },
            ticks: {
              stepSize: props.yStep,
              includeBounds: false,
              padding: 3,
              color: "#222",
              font: { family: FONT, size: 14.5 },
              callback: (v: any) => Number(v).toFixed(props.yDigits),
            },
            grid: { drawOnChartArea: false, tickLength: 3, tickColor: "#777" },
            border: { display: false },
            title: {
              display: true,
              text: "log1p (normalized counts)",
              color: "#222",
              font: { family: FONT, size: 15 },
              padding: { top: props.yTitleX - 9, bottom: 0 },
            },
          },
        },
      } as any,
    })

    return () => chart.destroy()
  }, [])

  return (
    <>
      <canvas
        ref={canvasRef}
        width={CANVAS_W}
        height={CANVAS_H}
        style={{ position: "absolute", left: props.left, top: props.top, width: CANVAS_W, height: CANVAS_H }}
      />
      <div
        style={{
          position: "absolute",
          left: props.left + props.titleX - 60,
          top: props.top + props.titleY - 8,
          width: 120,
          textAlign: "center",
          font: `14px ${FONT}`,
          lineHeight: "16px",
          color: "#222",
        }}
      >
        {props.title}
      </div>
    </>
  )
}

function SubtypeLegend({ left, top }: { left: number; top: number }) {
  return (
    <div style={{ position: "absolute", left, top, font: `14.3px ${FONT}`, color: "#222", lineHeight: "16.6px" }}>
      <div style={{ marginBottom: 1.5 }}>Subtype</div>
      {subtypeLabels.map((label, i) => (
        <div key={label} style={{ position: "relative", paddingLeft: 11, whiteSpace: "nowrap" }}>
          <span
            style={{
              position: "absolute",
              left: 3,
              top: 7,
              width: 2.5,
              height: 2.5,
              borderRadius: "50%",
              background: clusterColors[i],
            }}
          />
          {label}
        </div>
      ))}
    </div>
  )
}

export default function App() {
  return (
    <div style={{ position: "absolute", left: 0, top: 0, width: 600, height: 707, background: "#fff", overflow: "hidden" }}>
      <Panel
        title="GNB2L1"
        left={0}
        top={0}
        plot={[63.5, 37, 280, 203]}
        titleX={146}
        titleY={26}
        yTitleX={39}
        xRange={[-0.4, 23.2]}
        yRange={[-0.327, 3.445]}
        yStep={1}
        yDigits={0}
        rugY={-0.236}
        clouds={[[...gnbC0, ...gnbC0Core], gnbC1, gnbC2, gnbC3]}
        radii={[1.7, 1.1, 1.1, 1.2]}
        curve={gnbCurve}
        rug={gnbRug}
        zeroRug={gnbZeroRug}
      />
      <Panel
        title="RACK1"
        left={300}
        top={0}
        plot={[61, 37, 277.5, 203]}
        titleX={132}
        titleY={26}
        yTitleX={33}
        xRange={[-0.35, 23.2]}
        yRange={[-0.27, 2.83]}
        yStep={1}
        yDigits={0}
        rugY={-0.2}
        clouds={[rackC0, [...rackC1, ...rackC1Core], rackC2, rackC3]}
        radii={[1.1, 1.8, 1.4, 1.1]}
        curve={rackCurve}
        rug={rackRug}
        zeroRug={rackZeroRug}
      />
      <Panel
        title="HNRNPH1"
        left={0}
        top={350}
        plot={[69.5, 28.3, 280, 192.7]}
        titleX={164}
        titleY={16}
        yTitleX={28}
        xRange={[0, 23.2]}
        yRange={[-0.233, 2.569]}
        yStep={0.5}
        yDigits={1}
        rugY={-0.167}
        clouds={[hnrC0, [...hnrC1, ...hnrC1Core], hnrC2, hnrC3]}
        radii={[1.3, 1.7, 1.4, 1.1]}
        curve={hnrCurve}
        rug={hnrRug}
        zeroRug={hnrZeroRug}
      />
      <Panel
        title="ATP5E"
        left={300}
        top={350}
        plot={[61, 25.7, 278, 192]}
        titleX={138}
        titleY={16.5}
        yTitleX={31}
        xRange={[-0.3, 23.2]}
        yRange={[-0.3, 3.15]}
        yStep={1}
        yDigits={0}
        rugY={-0.217}
        clouds={[[...atpC0, ...atpC0Core], atpC1, atpC2, atpC3]}
        radii={[1.7, 1.1, 1.1, 1.2]}
        curve={atpCurve}
        rug={atpRug}
        zeroRug={atpZeroRug}
      />
      <SubtypeLegend left={70} top={260} />
      <SubtypeLegend left={358} top={260} />
      <SubtypeLegend left={70} top={605} />
      <SubtypeLegend left={358} top={605} />
    </div>
  )
}
